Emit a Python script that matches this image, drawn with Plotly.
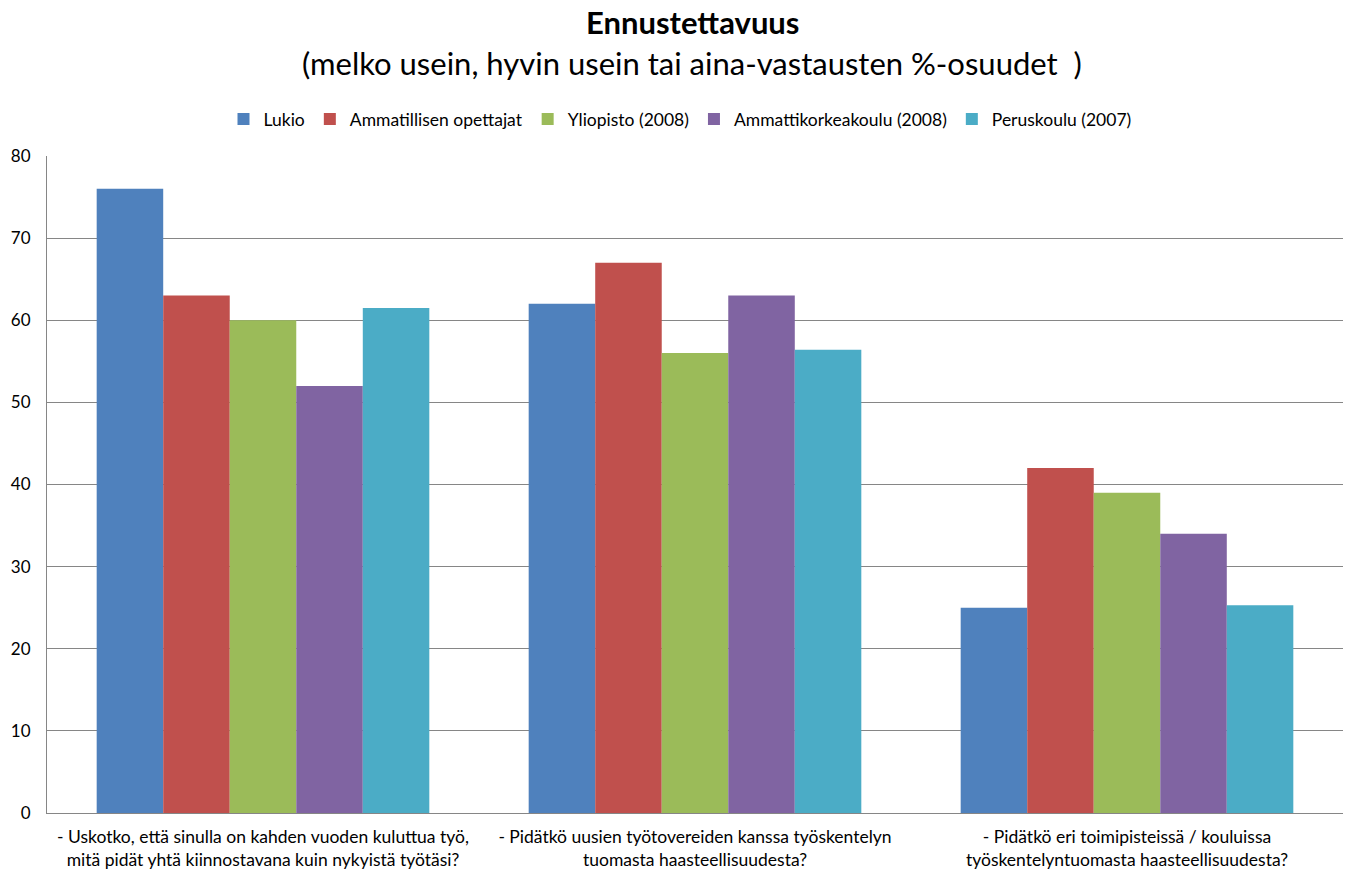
import plotly.graph_objects as go

categories = [
    "- Uskotko, että sinulla on kahden vuoden kuluttua työ,<br>mitä pidät yhtä kiinnostavana kuin nykyistä työtäsi?",
    "- Pidätkö uusien työtovereiden kanssa työskentelyn<br>tuomasta haasteellisuudesta?",
    "- Pidätkö eri toimipisteissä / kouluissa<br>työskentelyntuomasta haasteellisuudesta?",
]
series_names = ["Lukio", "Ammatillisen opettajat", "Yliopisto (2008)",
                "Ammattikorkeakoulu (2008)", "Peruskoulu (2007)"]
lukio = [76, 62, 25]
ammatillisen = [63, 67, 42]
yliopisto = [60, 56, 39]
amk = [52, 63, 34]
peruskoulu = [61.5, 56.4, 25.3]
values = [lukio, ammatillisen, yliopisto, amk, peruskoulu]
colors = ["#4F81BD", "#C0504D", "#9BBB59", "#8064A2", "#4BACC6"]
y_ticks = [0, 10, 20, 30, 40, 50, 60, 70, 80]

FONT = "Lato, Liberation Sans, sans-serif"

W, H = 1358, 881
PLOT_LEFT, PLOT_RIGHT = 47, 1343
PLOT_TOP, PLOT_BOTTOM = 156, 813
PH = PLOT_BOTTOM - PLOT_TOP
PW = PLOT_RIGHT - PLOT_LEFT


def py(screen_y):
    return 1 + (PLOT_TOP - screen_y) / PH


def px(screen_x):
    return (screen_x - PLOT_LEFT) / PW


fig = go.Figure()
for name, vals, c in zip(series_names, values, colors):
    fig.add_trace(go.Bar(name=name, x=categories, y=vals,
                         marker=dict(color=c, line=dict(width=0))))

fig.update_layout(
    width=W, height=H,
    paper_bgcolor="white", plot_bgcolor="white",
    barmode="group", bargap=0.23, bargroupgap=0,
    margin=dict(l=PLOT_LEFT, r=W - PLOT_RIGHT, t=PLOT_TOP, b=H - PLOT_BOTTOM, pad=0),
    font=dict(family=FONT, color="black", size=16),
    showlegend=True,
    legend=dict(orientation="h", x=px(680), xanchor="center", y=py(119), yref="paper",
                yanchor="middle", font=dict(size=17.5), traceorder="normal",
                itemwidth=30, bgcolor="rgba(0,0,0,0)"),
    annotations=[
        dict(text="<b>Ennustettavuus</b>", xref="paper", yref="paper", x=px(692), y=py(22),
             xanchor="center", yanchor="middle", showarrow=False,
             font=dict(size=31, family=FONT)),
        dict(text="(melko usein, hyvin usein tai aina-vastausten %-osuudet  )",
             xref="paper", yref="paper", x=px(692), y=py(63), xanchor="center",
             yanchor="middle", showarrow=False, font=dict(size=31, family=FONT)),
    ],
)

fig.update_xaxes(showline=True, linecolor="#868686", linewidth=1, ticks="", showgrid=False,
                 tickfont=dict(size=17.5, family=FONT), automargin=False,
                 ticklabelstandoff=8)
fig.update_yaxes(range=[0, 80], tickvals=y_ticks, showgrid=True, gridcolor="#868686",
                 gridwidth=1, showline=True, linecolor="#868686", linewidth=1,
                 zeroline=False, tickfont=dict(size=17, family=FONT), ticks="",
                 ticklabelstandoff=12, automargin=False)

fig.write_html("out.html", config={"displayModeBar": False},
               post_script="document.body.style.margin='0';")
